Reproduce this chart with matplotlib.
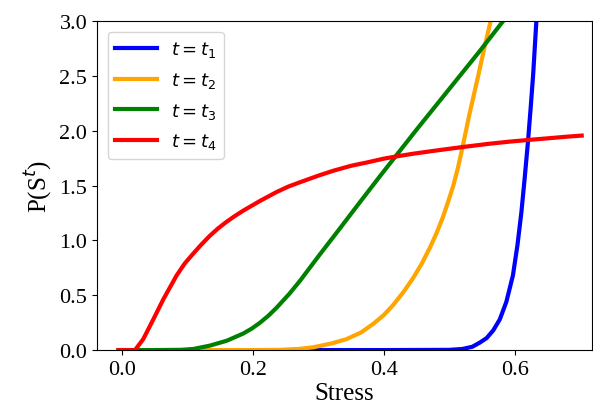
import matplotlib
matplotlib.use("Agg")
import matplotlib.pyplot as plt

# values
x_t1 = [-0.005, 0.1, 0.2, 0.3, 0.4, 0.5, 0.52, 0.535, 0.547, 0.557, 0.567, 0.577,
        0.587, 0.597, 0.604, 0.610, 0.615, 0.620, 0.624, 0.628, 0.632, 0.636]
p_t1 = [0.0, 0.0, 0.0, 0.0, 0.0, 0.002, 0.01, 0.03, 0.07, 0.11, 0.18, 0.28,
        0.44, 0.68, 0.96, 1.26, 1.57, 1.90, 2.20, 2.52, 2.92, 3.3]

x_t2 = [-0.005, 0.1, 0.2, 0.241, 0.27, 0.292, 0.32, 0.343, 0.365, 0.384, 0.40,
        0.414, 0.43, 0.445, 0.458, 0.470, 0.48, 0.49, 0.498, 0.506, 0.513,
        0.519, 0.525, 0.531, 0.544, 0.554, 0.563, 0.57]
p_t2 = [0.0, 0.0, 0.0, 0.002, 0.01, 0.025, 0.06, 0.10, 0.16, 0.24, 0.32,
        0.41, 0.53, 0.66, 0.79, 0.93, 1.06, 1.21, 1.35, 1.50, 1.66,
        1.82, 1.99, 2.16, 2.50, 2.77, 3.0, 3.2]

x_t3 = [-0.005, 0.05, 0.09, 0.109, 0.134, 0.16, 0.185, 0.198, 0.211, 0.224,
        0.236, 0.256, 0.272, 0.302, 0.333, 0.363, 0.394, 0.419, 0.450, 0.485,
        0.516, 0.547, 0.577, 0.59]
p_t3 = [0.0, 0.0, 0.002, 0.01, 0.04, 0.085, 0.15, 0.195, 0.25, 0.315,
        0.385, 0.515, 0.632, 0.87, 1.11, 1.345, 1.585, 1.775, 2.01, 2.27,
        2.50, 2.73, 2.96, 3.06]

x_t4 = [-0.005, 0.01, 0.02, 0.0326, 0.048, 0.063, 0.0835, 0.096, 0.109, 0.121,
        0.134, 0.147, 0.16, 0.172, 0.185, 0.211, 0.236, 0.254, 0.272, 0.30,
        0.323, 0.35, 0.374, 0.40, 0.419, 0.445, 0.475, 0.50, 0.526, 0.56,
        0.592, 0.62, 0.65, 0.675, 0.702]
p_t4 = [0.0, 0.0, 0.0, 0.10, 0.28, 0.46, 0.68, 0.79, 0.88, 0.96,
        1.04, 1.11, 1.17, 1.22, 1.27, 1.36, 1.44, 1.49, 1.53, 1.59,
        1.635, 1.68, 1.71, 1.745, 1.765, 1.79, 1.815, 1.835, 1.855, 1.88,
        1.90, 1.915, 1.93, 1.943, 1.955]

series = [
    (x_t1, p_t1, "blue", r"$t = t_1$"),
    (x_t2, p_t2, "orange", r"$t = t_2$"),
    (x_t3, p_t3, "green", r"$t = t_3$"),
    (x_t4, p_t4, "red", r"$t = t_4$"),
]

fig = plt.figure(figsize=(5.93, 4.14), dpi=100)
ax = fig.add_axes([0.1636, 0.152, 0.835, 0.795])

for xs, ys, col, lab in series:
    ax.plot(xs, ys, color=col, lw=3, label=lab, solid_joinstyle="round")

ax.set_xlim(-0.038, 0.718)
ax.set_ylim(0, 3)
ax.set_xticks([0.0, 0.2, 0.4, 0.6])
ax.set_yticks([0.0, 0.5, 1.0, 1.5, 2.0, 2.5, 3.0])

serif = "Liberation Serif"
for lbl in ax.get_xticklabels() + ax.get_yticklabels():
    lbl.set_fontfamily(serif)
    lbl.set_fontsize(16)
ax.set_xlabel("Stress", fontfamily=serif, fontsize=18, labelpad=2)
ax.set_ylabel(r"P(S$^{t}$)", fontfamily=serif, fontsize=18, labelpad=4)

ax.legend(loc="upper left", fontsize=13, handlelength=2.3, labelspacing=0.6,
          borderaxespad=0.6)

fig.savefig("out.png", dpi=100)
